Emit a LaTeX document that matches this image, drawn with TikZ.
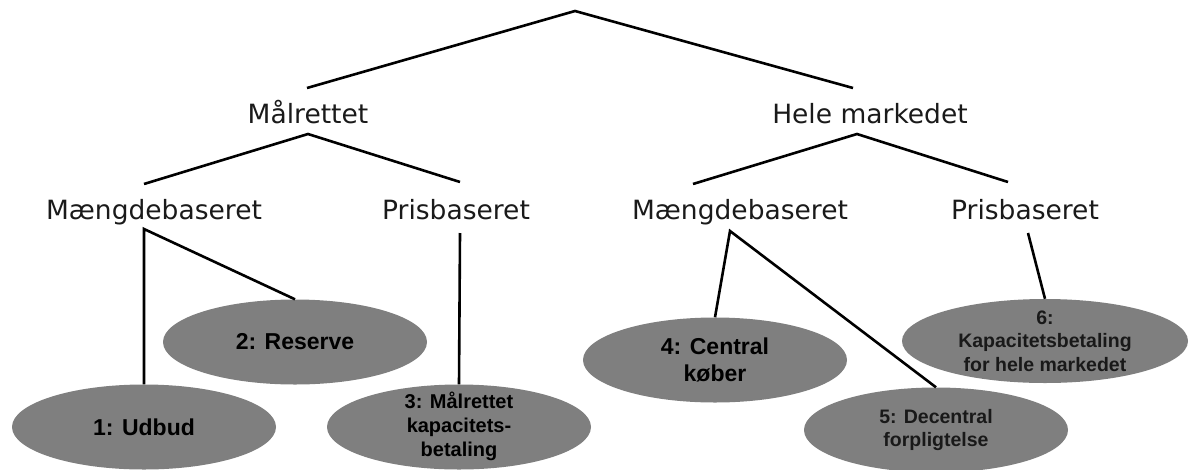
\documentclass[tikz,border=0pt]{standalone}
\usepackage{fontspec}
\setmainfont{DejaVu Sans}
\newfontfamily\arialf{Liberation Sans}
\usetikzlibrary{shapes.geometric}
\definecolor{blobgray}{HTML}{7F7F7F}
\definecolor{txtgray}{HTML}{1A1A1A}
\tikzset{
  conn/.style={line width=2.6pt, black},
  cat/.style={anchor=base, inner sep=0pt, text=txtgray, font=\fontsize{26.5}{30}\selectfont},
  blob/.style={ellipse, fill=blobgray, draw=none, inner sep=0pt, minimum width=264pt, minimum height=85pt},
  btxt/.style={align=center, inner sep=0pt, text=black, font=\arialf\bfseries\fontsize{23}{27}\selectfont},
  stxt/.style={align=center, inner sep=0pt, text=black, font=\arialf\bfseries\fontsize{20}{24}\selectfont},
  rtxt/.style={align=center, inner sep=0pt, text=black!90, font=\arialf\bfseries\fontsize{19.5}{23.5}\selectfont},
}
\begin{document}
\begin{tikzpicture}[x=1pt, y=-1pt]
\useasboundingbox (0,0) rectangle (1189,469);
% category text
\node[cat] (mal)  at (308,123) {Målrettet};
\node[cat] (hele) at (870,123) {Hele markedet};
\node[cat] (mg1)  at (154,219) {Mængdebaseret};
\node[cat] (pr1)  at (456,219) {Prisbaseret};
\node[cat] (mg2)  at (740,219) {Mængdebaseret};
\node[cat] (pr2)  at (1025,219) {Prisbaseret};
% ellipses
\node[blob] (e1) at (144,427) {};
\node[blob] (e2) at (295,342) {};
\node[blob] (e3) at (459,427) {};
\node[blob] (e4) at (715,360) {};
\node[blob] (e5) at (936,430) {};
\node[blob, minimum width=286pt, minimum height=84pt] (e6) at (1045,341) {};
\node[btxt] at (e1) {1: Udbud};
\node[btxt] at (e2) {2: Reserve};
\node[stxt] at ([yshift=1]e3.center) {3: Målrettet\\kapacitets-\\betaling};
\node[btxt] at (e4) {4: Central\\køber};
\node[rtxt] at (e5) {5: Decentral\\forpligtelse};
\node[rtxt] at (e6) {6:\\Kapacitetsbetaling\\for hele markedet};
% connector points
\coordinate (top)   at (575,11);
\coordinate (malT)  at (307,88);
\coordinate (heleT) at (853,88);
\coordinate (malB)  at (308,134);
\coordinate (heleB) at (857,134);
\coordinate (mg1T)  at (144,184);
\coordinate (pr1T)  at (460,182);
\coordinate (mg2T)  at (693,184);
\coordinate (pr2T)  at (1008,182);
\coordinate (mg1B)  at (144,229);
\coordinate (pr1B)  at (460,233);
\coordinate (mg2B)  at (730,231);
\coordinate (pr2B)  at (1028,233);
% connectors
\draw[conn] (malT) -- (top) -- (heleT);
\draw[conn] (mg1T) -- (malB) -- (pr1T);
\draw[conn] (mg2T) -- (heleB) -- (pr2T);
\draw[conn] (e1.north) -- (mg1B) -- (e2.north);
\draw[conn] (pr1B) -- (e3.north);
\draw[conn] (e4.north) -- (mg2B) -- (e5.north);
\draw[conn] (pr2B) -- (e6.north);
\end{tikzpicture}
\end{document}
